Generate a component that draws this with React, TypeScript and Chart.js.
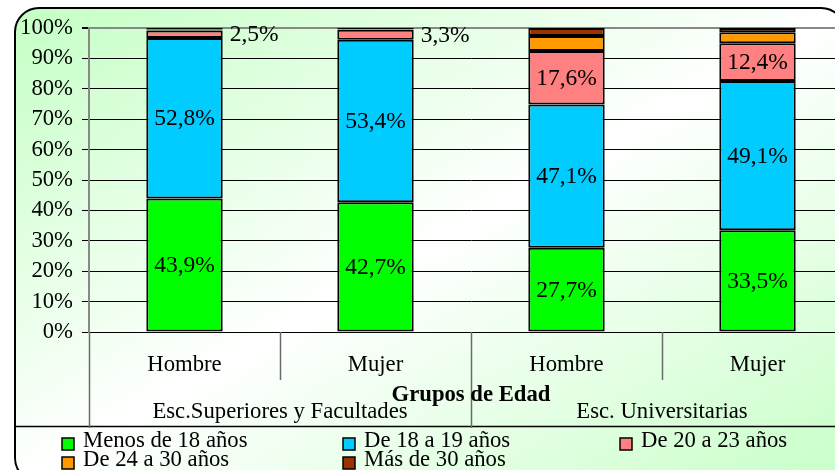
import React, { useEffect, useRef } from "react";
import { Chart, registerables } from "chart.js";

Chart.register(...registerables);

// ---- data ----
const categories = ["Hombre", "Mujer", "Hombre", "Mujer"];
const groups = ["Esc.Superiores y Facultades", "Esc. Universitarias"];
const axisTitle = "Grupos de Edad";
const seriesNames = [
  "Menos de 18 años",
  "De 18 a 19 años",
  "De 20 a 23 años",
  "De 24 a 30 años",
  "Más de 30 años",
];
const menos18 = [43.9, 42.7, 27.7, 33.5];
const de18a19 = [52.8, 53.4, 47.1, 49.1];
const de20a23 = [2.5, 3.3, 17.6, 12.4];
const de24a30 = [0.3, 0.2, 5.0, 3.6];
const mas30 = [0.5, 0.4, 2.6, 1.4];
const showLabel = [true, true, true, false, false];
const yMin = 0;
const yMax = 100;
const yStep = 10;

const seriesColors = ["#00ff00", "#00ccff", "#ff8080", "#ff9900", "#993300"];
const FONT = "'Liberation Serif', 'Times New Roman', serif";
const FS = 22.7;
const FS_LABEL = 23.5;

const W = 870;
const H = 470;

const fmt = (v: number) => v.toFixed(1).replace(".", ",") + "%";

const framePlugin = {
  id: "frame",
  beforeDraw(chart: any) {
    const ctx = chart.ctx as CanvasRenderingContext2D;
    ctx.save();
    ctx.fillStyle = "#ffffff";
    ctx.fillRect(0, 0, chart.width, chart.height);
    const x0 = 15, y0 = 8, x1 = 845, y1 = 482, r = 24;
    const path = new Path2D();
    path.moveTo(x0 + r, y0);
    path.lineTo(x1 - r, y0);
    path.arcTo(x1, y0, x1, y0 + r, r);
    path.lineTo(x1, y1 - r);
    path.arcTo(x1, y1, x1 - r, y1, r);
    path.lineTo(x0 + r, y1);
    path.arcTo(x0, y1, x0, y1 - r, r);
    path.lineTo(x0, y0 + r);
    path.arcTo(x0, y0, x0 + r, y0, r);
    path.closePath();
    ctx.save();
    ctx.clip(path);
    ctx.translate(x0, y0);
    ctx.scale(x1 - x0, y1 - y0);
    const g = ctx.createLinearGradient(0, 0, 1, 1);
    g.addColorStop(0, "#c4ffc4");
    g.addColorStop(0.5, "#ffffff");
    g.addColorStop(1, "#c8ffc8");
    ctx.fillStyle = g;
    ctx.fillRect(0, 0, 1, 1);
    ctx.restore();
    ctx.lineWidth = 2;
    ctx.strokeStyle = "#000000";
    ctx.stroke(path);
    // legend separator
    ctx.beginPath();
    ctx.lineWidth = 1.5;
    ctx.moveTo(x0, 426.5);
    ctx.lineTo(x1, 426.5);
    ctx.stroke();
    ctx.restore();
  },
};

const labelsPlugin = {
  id: "barLabels",
  afterDatasetsDraw(chart: any) {
    const ctx = chart.ctx as CanvasRenderingContext2D;
    ctx.save();
    ctx.font = `${FS_LABEL}px ${FONT}`;
    ctx.fillStyle = "#000000";
    ctx.textBaseline = "middle";
    chart.data.datasets.forEach((ds: any, i: number) => {
      if (!showLabel[i]) return;
      const meta = chart.getDatasetMeta(i);
      meta.data.forEach((el: any, j: number) => {
        const v = ds.data[j];
        const top = el.y;
        const base = el.base;
        const cy = (top + base) / 2;
        if (Math.abs(base - top) < 26) {
          ctx.textAlign = "left";
          ctx.fillText(fmt(v), el.x + el.width / 2 + 7, cy + 1);
        } else {
          ctx.textAlign = "center";
          ctx.fillText(fmt(v), el.x, cy + 1);
        }
      });
    });
    ctx.restore();
  },
};

const xAxisPlugin = {
  id: "xAxisDraw",
  afterDraw(chart: any) {
    const ctx = chart.ctx as CanvasRenderingContext2D;
    const xs = chart.scales.x;
    const area = chart.chartArea;
    const bottom = area.bottom;
    ctx.save();
    const centers = categories.map((_, i) => xs.getPixelForValue(i));
    const step = centers.length > 1 ? centers[1] - centers[0] : area.right - area.left;
    const bounds: number[] = [];
    for (let b = 0; b <= categories.length; b++) bounds.push(centers[0] - step / 2 + b * step);
    ctx.strokeStyle = "#6a6a6a";
    ctx.lineWidth = 1.5;
    bounds.forEach((bx, b) => {
      const len = b % 2 === 0 ? 96 : 48;
      ctx.beginPath();
      ctx.moveTo(Math.round(bx) + 0.5, bottom);
      ctx.lineTo(Math.round(bx) + 0.5, bottom + len);
      ctx.stroke();
    });
    ctx.fillStyle = "#000000";
    ctx.font = `${FS}px ${FONT}`;
    ctx.textAlign = "center";
    ctx.textBaseline = "alphabetic";
    categories.forEach((c, i) => {
      ctx.fillText(c, centers[i], bottom + 39);
    });
    groups.forEach((g, gi) => {
      const cx = (centers[gi * 2] + centers[gi * 2 + 1]) / 2;
      ctx.fillText(g, cx, bottom + 86);
    });
    ctx.font = `bold ${FS}px ${FONT}`;
    ctx.fillText(axisTitle, (area.left + area.right) / 2, bottom + 69);
    ctx.restore();
  },
};

const legendPlugin = {
  id: "customLegend",
  afterDraw(chart: any) {
    const ctx = chart.ctx as CanvasRenderingContext2D;
    const colX = [62, 343, 620];
    const rowY = [447, 466];
    ctx.save();
    ctx.font = `${FS}px ${FONT}`;
    ctx.textAlign = "left";
    ctx.textBaseline = "alphabetic";
    chart.data.datasets.forEach((ds: any, i: number) => {
      const x = colX[i % 3];
      const y = rowY[Math.floor(i / 3)];
      ctx.fillStyle = ds.backgroundColor;
      ctx.fillRect(x, y - 9, 12, 12);
      ctx.strokeStyle = "#000000";
      ctx.lineWidth = 1.5;
      ctx.strokeRect(x, y - 9, 12, 12);
      ctx.fillStyle = "#000000";
      ctx.fillText(ds.label, x + 21, y);
    });
    ctx.restore();
  },
};

export default function App() {
  const canvasRef = useRef<HTMLCanvasElement | null>(null);

  useEffect(() => {
    if (!canvasRef.current) return;
    const seriesData = [menos18, de18a19, de20a23, de24a30, mas30];
    const chart = new Chart(canvasRef.current, {
      type: "bar",
      data: {
        labels: categories,
        datasets: seriesData.map((d, i) => ({
          label: seriesNames[i],
          data: d,
          backgroundColor: seriesColors[i],
          borderColor: "#000000",
          borderWidth: 2,
          borderSkipped: false,
          categoryPercentage: 1,
          barPercentage: 0.4,
        })),
      },
      options: {
        responsive: false,
        animation: false,
        devicePixelRatio: 1,
        layout: { padding: { left: 0, top: 28, right: W - 853, bottom: H - 332 } },
        plugins: {
          legend: { display: false },
          tooltip: { enabled: false },
        },
        scales: {
          x: {
            stacked: true,
            display: false,
          },
          y: {
            stacked: true,
            min: yMin,
            max: yMax,
            afterFit: (s: any) => {
              s.width = 89;
            },
            ticks: {
              stepSize: yStep,
              padding: 9,
              color: "#000000",
              font: { family: FONT, size: FS },
              callback: (v: any) => v + "%",
            },
            grid: {
              color: (c: any) => (c.tick && c.tick.value === yMax ? "#888888" : "#000000"),
              lineWidth: (c: any) => (c.tick && c.tick.value === yMax ? 2 : 1),
              tickColor: "#000000",
              tickLength: 7,
            },
            border: { display: true, color: "#888888", width: 2 },
          },
        },
      },
      plugins: [framePlugin, labelsPlugin, xAxisPlugin, legendPlugin],
    });
    return () => chart.destroy();
  }, []);

  return (
    <div
      style={{
        position: "fixed",
        left: 0,
        top: 0,
        width: 835,
        height: 470,
        overflow: "hidden",
        background: "#ffffff",
      }}
    >
      <canvas ref={canvasRef} width={W} height={H} style={{ width: W, height: H, display: "block" }} />
    </div>
  );
}
